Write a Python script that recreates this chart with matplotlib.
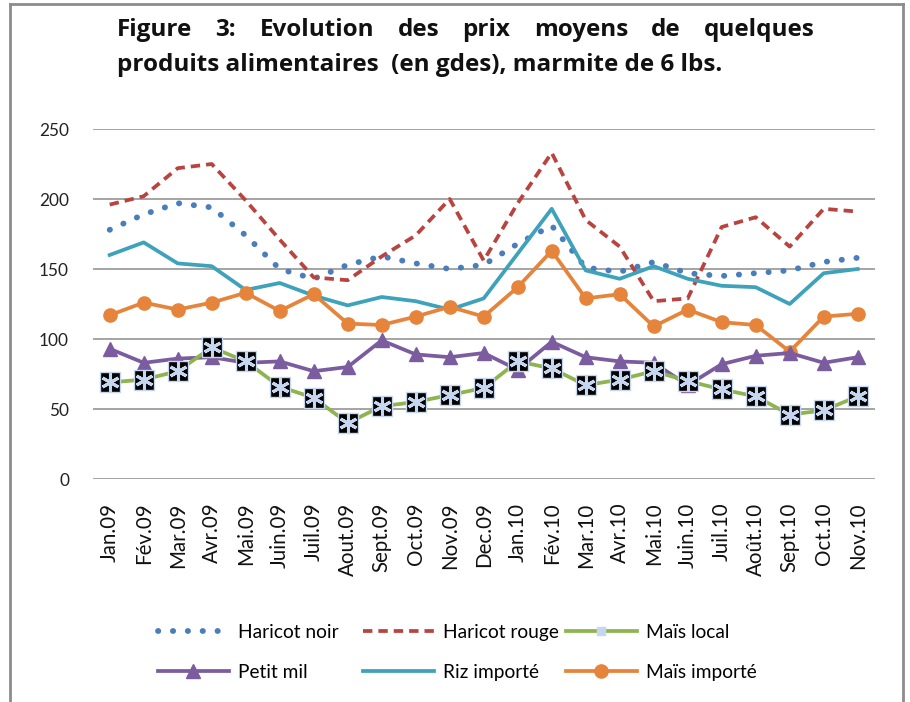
import matplotlib
matplotlib.use("Agg")
import matplotlib.pyplot as plt
from matplotlib.lines import Line2D

plt.rcParams['font.family'] = ['Lato', 'DejaVu Sans']

months = ["Jan.09", "Fév.09", "Mar.09", "Avr.09", "Mai.09", "Juin.09", "Juil.09",
          "Aout.09", "Sept.09", "Oct.09", "Nov.09", "Dec.09", "Jan.10", "Fév.10",
          "Mar.10", "Avr.10", "Mai.10", "Juin.10", "Juil.10", "Août.10", "Sept.10",
          "Oct.10", "Nov.10"]

haricot_noir = [178, 189, 197, 194, 174, 150, 143, 153, 159, 154, 150, 153,
                168, 181, 151, 148, 155, 147, 145, 147, 149, 155, 158]
haricot_rouge = [196, 202, 222, 225, 199, 171, 144, 142, 159, 174, 200, 156,
                 197, 233, 185, 166, 127, 129, 180, 187, 166, 193, 191]
mais_local = [69, 71, 77, 94, 84, 66, 58, 40, 52, 55, 60, 65,
              84, 79, 67, 71, 77, 70, 64, 59, 46, 49, 59]
petit_mil = [93, 83, 86, 87, 83, 84, 77, 80, 99, 89, 87, 90,
             78, 98, 87, 84, 83, 67, 82, 88, 90, 83, 87]
riz_importe = [160, 169, 154, 152, 135, 140, 131, 124, 130, 127, 121, 129,
               161, 193, 149, 143, 152, 143, 138, 137, 125, 147, 150]
mais_importe = [117, 126, 121, 126, 133, 120, 132, 111, 110, 116, 123, 116,
                137, 163, 129, 132, 109, 121, 112, 110, 91, 116, 118]

yticks = [0, 50, 100, 150, 200, 250]

title_line1 = "Figure 3: Evolution des prix moyens de quelques"
title_line2 = "produits alimentaires  (en gdes), marmite de 6 lbs."

W, H = 910, 702
fig = plt.figure(figsize=(W/100, H/100), dpi=100)
ax = fig.add_axes([92.7/W, 1-479/H, 782/W, 350/H])

x = list(range(len(months)))

c_blue = '#4a7ebb'
c_red = '#b8433f'
c_green = '#8db44e'
c_purple = '#7b5c9f'
c_teal = '#3da2ba'
c_orange = '#e5843a'
c_xblue = '#c5d6ee'

h_hn, = ax.plot(x, haricot_noir, color=c_blue, lw=4.2, linestyle=(0, (0.05, 2.5)),
                dash_capstyle='round', label='Haricot noir', zorder=3)
h_hr, = ax.plot(x, haricot_rouge, color=c_red, lw=2.7, linestyle=(0, (2.5, 1.6)),
                label='Haricot rouge', zorder=3)
h_riz, = ax.plot(x, riz_importe, color=c_teal, lw=2.7, label='Riz importé', zorder=3)
h_mi, = ax.plot(x, mais_importe, color=c_orange, lw=2.7, marker='o', markersize=9.5,
                label='Maïs importé', zorder=4)
h_pm, = ax.plot(x, petit_mil, color=c_purple, lw=2.7, marker='^', markersize=10,
                label='Petit mil', zorder=5)
ax.plot(x, mais_local, color=c_green, lw=2.7, zorder=5)
ax.plot(x, mais_local, linestyle='none', marker='s', markersize=14,
        markerfacecolor='black', markeredgecolor=c_xblue, markeredgewidth=1.0, zorder=6)
ax.plot(x, mais_local, linestyle='none', marker=(6, 2, 0), markersize=13,
        markeredgecolor=c_xblue, markeredgewidth=2.2, zorder=7)
h_ml = Line2D([], [], color=c_green, lw=2.7, marker='s', markersize=6,
              markerfacecolor=c_xblue, markeredgecolor=c_xblue, label='Maïs local')

ax.set_xlim(-0.5, len(months) - 0.5)
ax.set_ylim(0, 250)
ax.set_yticks(yticks)
ax.set_xticks(x)
ax.set_xticklabels(months, rotation=90, fontsize=14.8)
ax.tick_params(axis='y', length=0, pad=17, labelsize=12.4, labelcolor='#222222')
ax.tick_params(axis='x', length=0, pad=17, labelcolor='#111111')
for s in ax.spines.values():
    s.set_visible(False)
ax.grid(axis='y', color='#8c8c8c', lw=1.1)
ax.set_axisbelow(True)

# Title: first line justified between left and right edges
renderer = fig.canvas.get_renderer()
tkw = dict(fontsize=17.5, fontweight='bold', family=['Open Sans', 'DejaVu Sans'],
           color='#111111', va='baseline', ha='left')
words = title_line1.split(" ")
tx = [fig.text(0, 1-36/H, w_, **tkw) for w_ in words]
widths = [t.get_window_extent(renderer).width for t in tx]
left_px, right_px = 117, 815
gap = (right_px - left_px - sum(widths)) / (len(words) - 1)
pos = left_px
for t, wd in zip(tx, widths):
    t.set_x(pos / W)
    pos += wd + gap
fig.text(left_px/W, 1-71/H, title_line2, **tkw)

# Legend: three columns of two entries, columns at fixed positions
cols = [[h_hn, h_pm], [h_hr, h_riz], [h_ml, h_mi]]
col_x = [158, 363, 566]
for hs, cx in zip(cols, col_x):
    fig.legend(handles=hs, labels=[h.get_label() for h in hs],
               loc='upper left', bbox_to_anchor=(cx/W, 1-624/H), frameon=False,
               fontsize=13.8, handlelength=3.7, handletextpad=0.45,
               labelspacing=1.2, borderpad=0, borderaxespad=0)

# figure border
bc = '#8c8c8c'
fig.add_artist(Line2D([10/W, 10/W], [0, 1-4/H], color=bc, lw=2, transform=fig.transFigure))
fig.add_artist(Line2D([903/W, 903/W], [0, 1-4/H], color=bc, lw=2, transform=fig.transFigure))
fig.add_artist(Line2D([10/W, 903/W], [1-4/H, 1-4/H], color=bc, lw=2, transform=fig.transFigure))

fig.savefig("out.png", dpi=100)
